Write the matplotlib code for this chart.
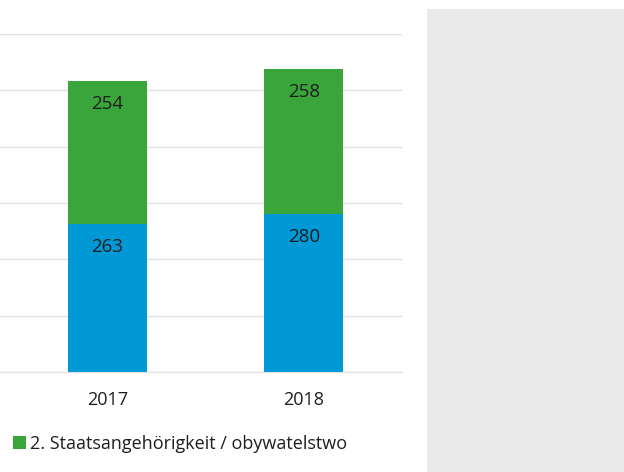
import matplotlib.pyplot as plt
from matplotlib.patches import Patch, Rectangle

plt.rcParams['font.family'] = ['Open Sans', 'DejaVu Sans']

# Daten
jahre = ['2017', '2018']
erste = [263, 280]      # blau (unten)
zweite = [254, 258]     # grün (oben)
legende = '2. Staatsangehörigkeit / obywatelstwo'

blau = '#0099D6'
gruen = '#3AA53B'
text = '#1E1E1E'

W, H = 624, 472
fig = plt.figure(figsize=(W / 100, H / 100), dpi=100)

# grauer Bereich rechts
fig.patches.append(Rectangle((427 / W, 0), (W - 427) / W, (H - 9) / H,
                             transform=fig.transFigure, facecolor='#EAEAEA',
                             edgecolor='none', zorder=0))

ax = fig.add_axes([0, (H - 372) / H, 402 / W, (372 - 34) / H])
x = range(len(jahre))
b1 = ax.bar(x, erste, width=0.4, color=blau, zorder=2)
b2 = ax.bar(x, zweite, width=0.4, bottom=erste, color=gruen, zorder=2)

for bars in (b1, b2):
    for r in bars:
        ax.annotate(f'{int(r.get_height())}',
                    (r.get_x() + r.get_width() / 2, r.get_y() + r.get_height()),
                    xytext=(0, -16.5), textcoords='offset points',
                    ha='center', va='center', fontsize=13.5, color=text)

ax.set_xlim(-0.546, 1.5)
ax.set_ylim(0, 600)
ax.set_yticks(range(0, 601, 100))
ax.yaxis.grid(True, color='#E0E0E0', linewidth=1, zorder=0)
ax.set_axisbelow(True)
ax.tick_params(axis='y', left=False, labelleft=False)
ax.tick_params(axis='x', length=0, pad=14, labelsize=13, labelcolor=text)
ax.set_xticks(list(x))
ax.set_xticklabels(jahre)
for s in ax.spines.values():
    s.set_visible(False)
ax.spines['bottom'].set_visible(True)
ax.spines['bottom'].set_color('#E0E0E0')

fig.legend(handles=[Patch(facecolor=gruen, edgecolor='none', label=legende)],
           loc='center left', bbox_to_anchor=(0.0095, (H - 444) / H),
           frameon=False, fontsize=13, handlelength=0.7, handleheight=0.7,
           handletextpad=0.25, borderaxespad=0, labelcolor=text)

fig.savefig('out.png', dpi=100)
